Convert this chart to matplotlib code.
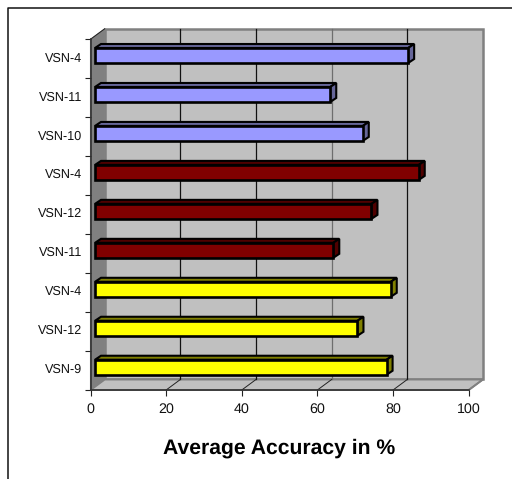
import matplotlib
matplotlib.use("Agg")
import matplotlib.pyplot as plt
from matplotlib.patches import Polygon, Rectangle

plt.rcParams['font.family'] = ['Liberation Sans', 'DejaVu Sans']
plt.rcParams['text.hinting'] = 'no_hinting'

categories = ['VSN-4', 'VSN-11', 'VSN-10', 'VSN-4', 'VSN-12', 'VSN-11', 'VSN-4', 'VSN-12', 'VSN-9']
values = [82.8, 62.2, 70.8, 85.6, 73.1, 63.0, 78.2, 69.4, 77.1]
front_colors = ['#9999FF'] * 3 + ['#800000'] * 3 + ['#FFFF00'] * 3
side_colors = ['#666699'] * 3 + ['#500000'] * 3 + ['#808000'] * 3
x_ticks = [0, 20, 40, 60, 80, 100]
x_title = 'Average Accuracy in %'

W, H = 512, 479
fig = plt.figure(figsize=(W / 100, H / 100), dpi=100, facecolor='white')

# frame of the chart area (right and bottom edges lie outside the crop)
bg = fig.add_axes([0, 0, 1, 1], zorder=0)
bg.set_xlim(0, W); bg.set_ylim(H, 0); bg.axis('off')
bg.plot([7.5, 7.5, W], [H, 7.5, 7.5], color='#111111', lw=1.1)

L, R, T, B = 90.5, 468.7, 39.3, 390.0
ax = fig.add_axes([L / W, 1 - B / H, (R - L) / W, (B - T) / H], zorder=1)
ax.set_xlim(0, 100)
ax.set_ylim(len(categories), 0)
ax.patch.set_alpha(0)
for s in ax.spines.values():
    s.set_visible(False)

px_x = 100 / (R - L)
px_y = len(categories) / (B - T)
dx = 14.2 * px_x     # depth of the chart box
dy = 10.5 * px_y
bx = 6.0 * px_x      # depth of a bar
by = 4.0 * px_y
n = len(categories)

# walls and floor
ax.add_patch(Polygon([(dx, -dy), (100 + dx, -dy), (100 + dx, n - dy), (dx, n - dy)],
                     fc='#C0C0C0', ec='#808080', lw=1.8, clip_on=False, zorder=1))
ax.add_patch(Polygon([(0, 0), (dx, -dy), (dx, n - dy), (0, n)],
                     fc='#808080', ec='#808080', lw=0.8, clip_on=False, zorder=1.5))
ax.add_patch(Polygon([(0, n), (dx, n - dy), (100 + dx, n - dy), (100, n)],
                     fc='#C0C0C0', ec='#808080', lw=1.4, clip_on=False, zorder=1.5))

# gridlines on the back wall and their floor segments
for t in x_ticks[1:-1]:
    col = '#6E6E6E' if t == 60 else '#111111'
    ax.plot([t + dx, t + dx], [-dy, n - dy], color=col, lw=0.9, clip_on=False, zorder=2)
    ax.plot([t, t + dx], [n, n - dy], color='#222222', lw=0.7, clip_on=False, zorder=2)
ax.plot([0, dx], [0, -dy], color='#222222', lw=0.7, clip_on=False, zorder=2)
ax.plot([100, 100 + dx], [n, n - dy], color='#808080', lw=1.2, clip_on=False, zorder=2)

# bars
x0 = 4.5 * px_x
for i, (v, fc, sc) in enumerate(zip(values, front_colors, side_colors)):
    top = i + 8.7 * px_y
    bot = i + 23.7 * px_y
    xe = x0 + v
    ec = '#000000'
    ax.add_patch(Polygon([(x0, top), (x0 + bx, top - by), (xe + bx, top - by), (xe, top)],
                         fc=sc, ec=ec, lw=1.5, clip_on=False, zorder=3, joinstyle='miter'))
    ax.add_patch(Polygon([(xe, top), (xe + bx, top - by), (xe + bx, bot - by), (xe, bot)],
                         fc=sc, ec=ec, lw=1.5, clip_on=False, zorder=3, joinstyle='miter'))
    ax.add_patch(Rectangle((x0, top), v, bot - top, fc=fc, ec=ec, lw=1.9,
                           clip_on=False, zorder=4, joinstyle='miter'))

# axes lines, ticks and labels
ax.plot([0, 0], [0, n], color='#333333', lw=1.2, clip_on=False, zorder=5)
ax.plot([0, 100], [n, n], color='#333333', lw=1.2, clip_on=False, zorder=5)
ax.set_xticks(x_ticks)
ax.set_yticks(range(n + 1))
ax.set_yticklabels([])
ax.tick_params(axis='x', length=4.3, width=0.8, color='#222222', labelsize=10.3, pad=5,
               direction='out', labelcolor='#111111')
ax.tick_params(axis='y', length=4.3, width=0.8, color='#222222', direction='out')
for i, c in enumerate(categories):
    ax.annotate(c, xy=(0, i + 0.5), xycoords='data', xytext=(-6.0, 0.5), textcoords='offset points',
                ha='right', va='center', fontsize=9.1, color='#111111', annotation_clip=False)
fig.text(279.5 / W, 1 - 448 / H, x_title, ha='center', va='center',
         fontsize=15.2, fontweight='bold', color='#000000')

fig.savefig('out.png', dpi=100, facecolor='white')
